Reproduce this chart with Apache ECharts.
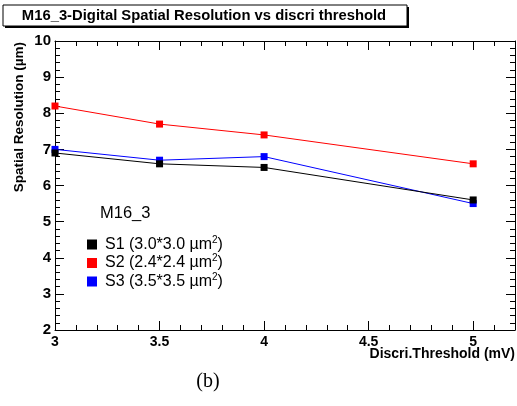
<!DOCTYPE html>
<html><head><meta charset="utf-8">
<script src="https://cdn.jsdelivr.net/npm/echarts@6/dist/echarts.min.js"></script>
<style>html,body{margin:0;padding:0;background:#fff}#c{width:517px;height:406px}</style>
</head><body><div id="c"></div>
<script>
const thresholds = [3, 3.5, 4, 5];
const s1 = [6.9, 6.6, 6.5, 5.6];
const s2 = [8.2, 7.7, 7.4, 6.6];
const s3 = [7.0, 6.7, 6.8, 5.5];
const seriesNames = ['S1 (3.0*3.0 µm{sup|2})', 'S2 (2.4*2.4 µm{sup|2})', 'S3 (3.5*3.5 µm{sup|2})'];
const colors = ['#000000', '#ff0000', '#0000ff'];

const chart = echarts.init(document.getElementById('c'));
const font = 'Liberation Sans, Arial, sans-serif';
function mk(vals){ return thresholds.map((x,i)=>[x, vals[i]]); }
const tickCommon = {inside:true, length:9, lineStyle:{color:'#000', width:1}};
const minorCommon = {show:true, splitNumber:5, length:5, lineStyle:{color:'#000', width:1}};
chart.setOption({
  animation:false,
  grid:{left:55, right:2, top:41, bottom:76, containLabel:false, outerBoundsMode:'none'},
  xAxis:[{
    type:'value', min:3, max:5.2, interval:0.5,
    axisLine:{show:true, lineStyle:{color:'#000', width:1}},
    axisTick:tickCommon, minorTick:minorCommon, splitLine:{show:false},
    axisLabel:{show:true, fontFamily:font, fontWeight:'bold', fontSize:14, color:'#000', margin:5,
      formatter:v => (Math.abs(v*2 - Math.round(v*2))<1e-6 ? String(v) : '')}
  },{
    type:'value', min:3, max:5.2, interval:0.5, position:'top',
    axisLine:{show:true, lineStyle:{color:'#000', width:1}},
    axisTick:tickCommon, minorTick:minorCommon, splitLine:{show:false}, axisLabel:{show:false}
  }],
  yAxis:[{
    type:'value', min:2, max:10, interval:1,
    axisLine:{show:true, lineStyle:{color:'#000', width:1}},
    axisTick:tickCommon, minorTick:minorCommon, splitLine:{show:false},
    axisLabel:{fontFamily:font, fontWeight:'bold', fontSize:15, color:'#000', margin:4}
  },{
    type:'value', min:2, max:10, interval:1, position:'right',
    axisLine:{show:true, lineStyle:{color:'#000', width:1}},
    axisTick:tickCommon, minorTick:minorCommon, splitLine:{show:false}, axisLabel:{show:false}
  }],
  legend:{
    orient:'vertical', left:82, top:230, itemWidth:10, itemHeight:10, itemGap:1, icon:'rect',
    data:seriesNames,
    textStyle:{fontFamily:font, fontSize:16, color:'#000', padding:[0,0,0,3],
      rich:{sup:{fontFamily:font, fontSize:10, color:'#000', verticalAlign:'top', padding:[0,0,9,0]}}}
  },
  series:[s1,s2,s3].map((v,i)=>({
    name:seriesNames[i], type:'line', data:mk(v), symbol:'rect', symbolSize:7,
    lineStyle:{color:colors[i], width:1}, itemStyle:{color:colors[i]}, z: i===0?3:2
  })),
  graphic:[
    {type:'rect', shape:{x:5, y:7, width:404, height:21}, style:{fill:'#000'}},
    {type:'rect', shape:{x:3, y:5, width:404, height:21}, style:{fill:'#fff', stroke:'#000', lineWidth:1}},
    {type:'text', x:204, y:16, style:{text:'M16_3-Digital Spatial Resolution vs discri threshold', font:'bold 14.8px Liberation Sans, Arial, sans-serif', fill:'#000', textAlign:'center', textVerticalAlign:'middle'}},
    {type:'text', x:19, y:42, rotation:Math.PI/2, style:{text:'Spatial Resolution (µm)', font:'bold 13.5px Liberation Sans, Arial, sans-serif', fill:'#000', textAlign:'right', textVerticalAlign:'middle'}},
    {type:'text', x:515, y:354, style:{text:'Discri.Threshold (mV)', font:'bold 14px Liberation Sans, Arial, sans-serif', fill:'#000', textAlign:'right', textVerticalAlign:'middle'}},
    {type:'text', x:100, y:213, style:{text:'M16_3', font:'16.5px Liberation Sans, Arial, sans-serif', fill:'#000', textAlign:'left', textVerticalAlign:'middle'}},
    {type:'text', x:208, y:382, style:{text:'(b)', font:'20px Liberation Serif, Times New Roman, serif', fill:'#000', textAlign:'center', textVerticalAlign:'middle'}}
  ]
});
</script></body></html>
